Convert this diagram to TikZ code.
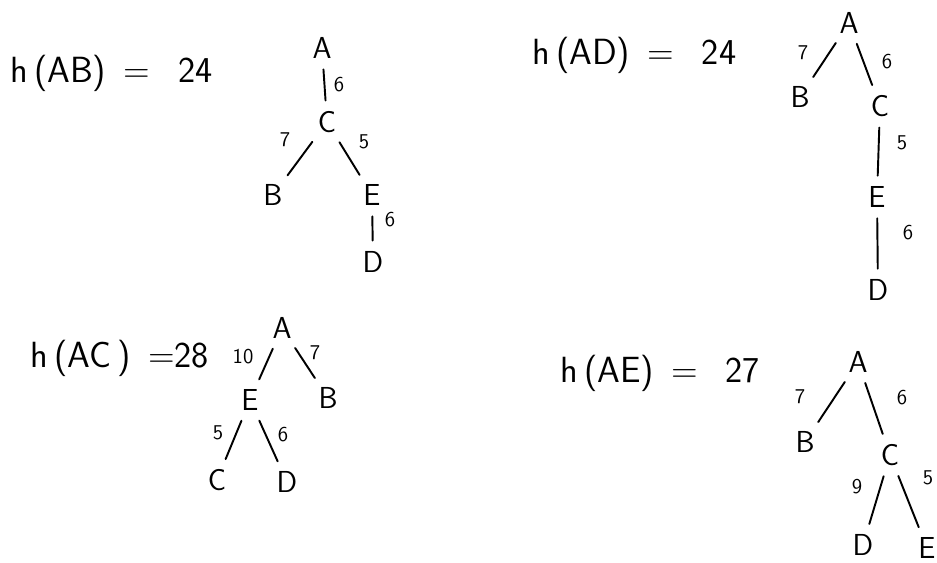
\documentclass[tikz,border=0pt]{standalone}
\usepackage{tikz}
\usetikzlibrary{calc}

\tikzset{
    vtx/.style={font=\sffamily\LARGE, inner sep=1pt},
    wt/.style={font=\sffamily\large, inner sep=0pt},
    br/.style={line width=1.1pt, line cap=round, shorten >=5pt, shorten <=5pt},
    hval/.style={font=\sffamily\huge, anchor=west, inner sep=0pt}
}

\begin{document}
\begin{tikzpicture}[x=0.02cm, y=-0.02cm]

\useasboundingbox (0,0) rectangle (937,562);

% h(AB)
\node[hval] (hab) at (10,73) {h\,(AB)\, =\;\, 24};
\node[vtx] (t1a) at (322,48) {A};
\node[vtx] (t1c) at (327,122) {C};
\node[vtx] (t1b) at (273,195) {B};
\node[vtx] (t1e) at (372,195) {E};
\node[vtx] (t1d) at (373,262) {D};
\draw[br] (t1a) -- (t1c);
\draw[br] (t1c) -- (t1b);
\draw[br] (t1c) -- (t1e);
\draw[br] (t1e) -- (t1d);
\node[wt] (w1ac) at (339,85) {6};
\node[wt] (w1cb) at (285,140) {7};
\node[wt] (w1ce) at (364,142) {5};
\node[wt] (w1ed) at (390,220) {6};

% h(AD)
\node[hval] (had) at (532,55) {h\,(AD)\, =\;\, 24};
\node[vtx] (t2a) at (849,23) {A};
\node[vtx] (t2b) at (800,97) {B};
\node[vtx] (t2c) at (880,106) {C};
\node[vtx] (t2e) at (877,197) {E};
\node[vtx] (t2d) at (878,290) {D};
\draw[br] (t2a) -- (t2b);
\draw[br] (t2a) -- (t2c);
\draw[br] (t2c) -- (t2e);
\draw[br] (t2e) -- (t2d);
\node[wt] (w2ab) at (803,53) {7};
\node[wt] (w2ac) at (887,62) {6};
\node[wt] (w2ce) at (902,143) {5};
\node[wt] (w2ed) at (908,233) {6};

% h(AC)
\node[hval] (hac) at (30,358) {h\,(AC\,)\, =28};
\node[vtx] (t3a) at (282,328) {A};
\node[vtx] (t3e) at (250,400) {E};
\node[vtx] (t3b) at (328,398) {B};
\node[vtx] (t3c) at (217,480) {C};
\node[vtx] (t3d) at (287,482) {D};
\draw[br] (t3a) -- (t3e);
\draw[br] (t3a) -- (t3b);
\draw[br] (t3e) -- (t3c);
\draw[br] (t3e) -- (t3d);
\node[wt] (w3ae) at (243,357) {10};
\node[wt] (w3ab) at (315,353) {7};
\node[wt] (w3ec) at (218,433) {5};
\node[wt] (w3ed) at (283,435) {6};

% h(AE)
\node[hval] (hae) at (560,373) {h\,(AE)\, =\;\, 27};
\node[vtx] (t4a) at (858,362) {A};
\node[vtx] (t4b) at (805,442) {B};
\node[vtx] (t4c) at (890,455) {C};
\node[vtx] (t4d) at (863,545) {D};
\node[vtx] (t4e) at (927,548) {E};
\draw[br] (t4a) -- (t4b);
\draw[br] (t4a) -- (t4c);
\draw[br] (t4c) -- (t4d);
\draw[br] (t4c) -- (t4e);
\node[wt] (w4ab) at (800,397) {7};
\node[wt] (w4ac) at (902,398) {6};
\node[wt] (w4cd) at (857,487) {9};
\node[wt] (w4ce) at (928,478) {5};

\end{tikzpicture}
\end{document}
